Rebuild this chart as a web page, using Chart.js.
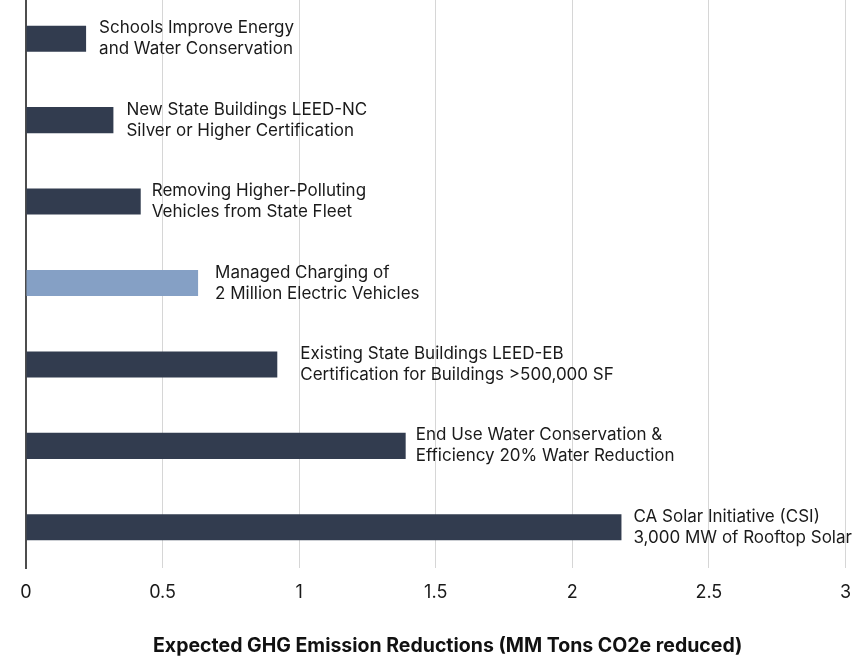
<!DOCTYPE html>
<html>
<head>
<meta charset="utf-8">
<script src="https://cdn.jsdelivr.net/npm/chart.js@4"></script>
<style>
  html, body { margin: 0; padding: 0; background: #ffffff; overflow: hidden; }
  #wrap { position: relative; width: 865px; height: 659px; margin-top: -2px; }
</style>
</head>
<body>
<div id="wrap"><canvas id="chart" width="865" height="659"></canvas></div>
<script>
// Measures, top to bottom
const categories = [
  ["Schools Improve Energy", "and Water Conservation"],
  ["New State Buildings LEED-NC", "Silver or Higher Certification"],
  ["Removing Higher-Polluting", "Vehicles from State Fleet"],
  ["Managed Charging of", "2 Million Electric Vehicles"],
  ["Existing State Buildings LEED-EB", "Certification for Buildings >500,000 SF"],
  ["End Use Water Conservation &", "Efficiency 20% Water Reduction"],
  ["CA Solar Initiative (CSI)", "3,000 MW of Rooftop Solar"]
];
// Expected reductions, MM tons CO2e
const reductions = [0.22, 0.32, 0.42, 0.63, 0.92, 1.39, 2.18];
// Which measure is highlighted
const highlighted = [false, false, false, true, false, false, false];
const xTicks = [0, 0.5, 1, 1.5, 2, 2.5, 3];
const axisTitle = "Expected GHG Emission Reductions (MM Tons CO2e reduced)";

const DARK = "#323c4f";
const LIGHT = "#85a0c5";
const FONT = "Inter, 'Helvetica Neue', Arial, sans-serif";

// Writes each measure's two-line name just past the end of its bar
const barNames = {
  id: "barNames",
  afterDatasetsDraw(chart, args, opts) {
    const ctx = chart.ctx;
    const meta = chart.getDatasetMeta(0);
    ctx.save();
    ctx.fillStyle = "#1a1a1a";
    ctx.font = opts.font;
    ctx.textAlign = "left";
    ctx.textBaseline = "middle";
    meta.data.forEach((bar, i) => {
      const lines = categories[i];
      const gap = opts.gaps[i];
      const lh = opts.lineHeight;
      const y0 = bar.y - (lh * (lines.length - 1)) / 2;
      lines.forEach((t, k) => ctx.fillText(t, bar.x + gap, y0 + k * lh));
    });
    ctx.restore();
  }
};

// Bold axis caption under the x tick labels
const xCaption = {
  id: "xCaption",
  afterDraw(chart, args, opts) {
    const ctx = chart.ctx;
    const x = chart.scales.x;
    ctx.save();
    ctx.fillStyle = "#111111";
    ctx.font = opts.font;
    ctx.textAlign = "center";
    ctx.textBaseline = "middle";
    ctx.fillText(axisTitle, (x.left + x.right) / 2 + opts.shift, x.bottom - opts.rise);
    ctx.restore();
  }
};

new Chart(document.getElementById("chart"), {
  type: "bar",
  data: {
    labels: categories.map(c => c.join(" ")),
    datasets: [{
      data: reductions,
      backgroundColor: highlighted.map(h => (h ? LIGHT : DARK)),
      borderWidth: 0,
      barPercentage: 0.32,
      categoryPercentage: 1
    }]
  },
  options: {
    indexAxis: "y",
    responsive: false,
    animation: false,
    layout: { padding: { left: 26, right: 18, top: 0, bottom: 0 } },
    plugins: {
      legend: { display: false },
      tooltip: { enabled: false },
      barNames: { font: "17px " + FONT, lineHeight: 21, gaps: [13, 13, 11, 17, 23, 10, 12] },
      xCaption: { font: "bold 19.5px " + FONT, shift: 12, rise: 11 }
    },
    scales: {
      x: {
        min: 0,
        max: 3,
        afterBuildTicks(scale) { scale.ticks = xTicks.map(v => ({ value: v })); },
        afterFit(scale) { scale.height = 89; },
        grid: { color: "#d6d6d6", lineWidth: 1, drawTicks: false },
        border: { display: false },
        ticks: {
          color: "#1a1a1a",
          padding: 14,
          font: { family: FONT, size: 18 },
          callback: v => String(v)
        },
        title: { display: false }
      },
      y: {
        grid: { display: false, drawTicks: false },
        border: { display: true, color: "#4d4d4d", width: 2 },
        ticks: { display: false }
      }
    }
  },
  plugins: [barNames, xCaption]
});
</script>
</body>
</html>
